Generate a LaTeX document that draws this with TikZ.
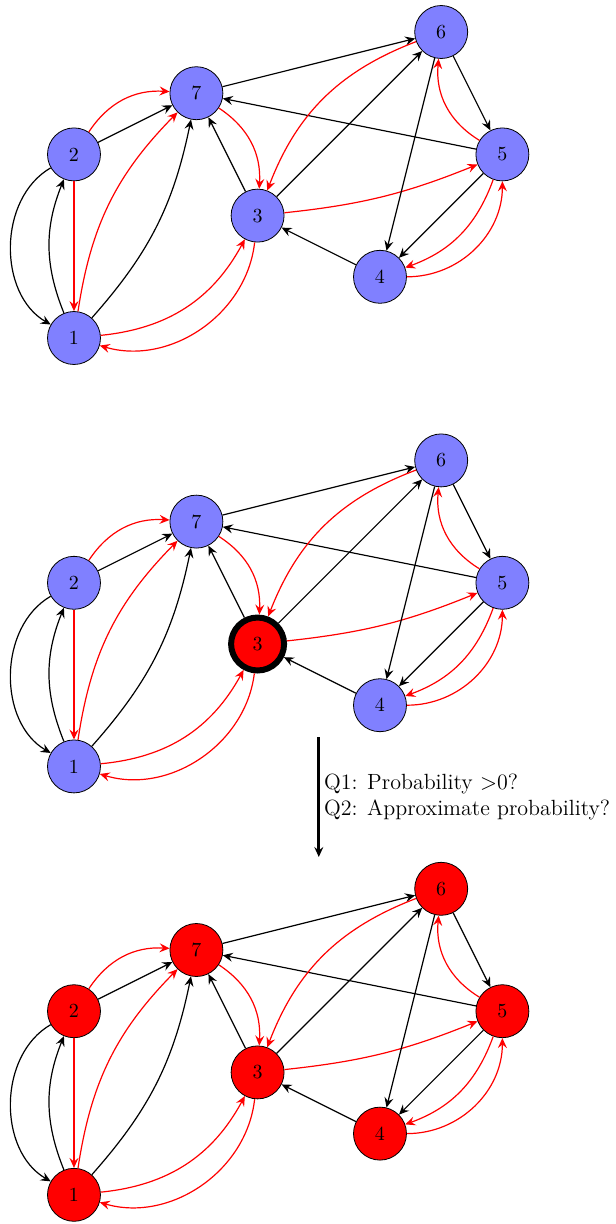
\documentclass[tikz,border=0pt]{standalone}
\usetikzlibrary{arrows.meta}

\begin{document}
\begin{tikzpicture}[
    x = 1.076cm, y = 1.076cm,
    > = {Stealth[length=5pt, width=4.5pt, inset=1.8pt]},
    vtx/.style = {
      circle, draw, minimum size = 26.5pt, inner sep = 0pt
    },
    blk/.style = {->, semithick},
    rd/.style  = {->, semithick, red},
    bigarr/.style = {->, line width = 1.4pt}
  ]
  \useasboundingbox (-1.209,5.523) rectangle (8.856,-14.477);

  % ---- drei Kopien des Graphen ----
  \foreach \g/\dy/\col/\colthree/\lw in {a/0/blue!50/blue!50/0.4pt,
                                          b/-7/blue!50/red/3pt,
                                          c/-14/red/red/0.4pt}{
    \begin{scope}[shift={(0,\dy)}]
      \node[vtx, fill=\col] (\g1) at (0,0) {1};
      \node[vtx, fill=\col] (\g2) at (0,3) {2};
      \node[vtx, fill=\col] (\g7) at (2,4) {7};
      \node[vtx, fill=\colthree, line width=\lw] (\g3) at (3,2) {3};
      \node[vtx, fill=\col] (\g6) at (6,5) {6};
      \node[vtx, fill=\col] (\g5) at (7,3) {5};
      \node[vtx, fill=\col] (\g4) at (5,1) {4};

      % linke Seite
      \draw[blk] (\g2) to[bend right=60] (\g1);
      \draw[blk] (\g1) to[bend left=22] (\g2);
      \draw[rd]  (\g2) -- (\g1);
      \draw[blk] (\g2) -- (\g7);
      \draw[rd]  (\g2) to[bend left=30] (\g7);
      \draw[rd]  (\g1) to[bend left=18] (\g7);
      \draw[blk] (\g1) to[bend right=15] (\g7);
      \draw[rd]  (\g1) to[bend right=28] (\g3);
      \draw[rd]  (\g3) to[bend left=50] (\g1);

      % Mitte
      \draw[blk] (\g7) -- (\g6);
      \draw[blk] (\g5) -- (\g7);
      \draw[rd]  (\g7) to[bend left=30] (\g3);
      \draw[blk] (\g3) -- (\g7);
      \draw[blk] (\g3) -- (\g6);
      \draw[rd]  (\g6) to[bend right=24] (\g3);
      \draw[rd]  (\g3) to[bend right=8] (\g5);
      \draw[blk] (\g4) -- (\g3);

      % rechte Seite
      \draw[blk] (\g6) -- (\g5);
      \draw[rd]  (\g5) to[bend left=32] (\g6);
      \draw[blk] (\g6) -- (\g4);
      \draw[blk] (\g5) -- (\g4);
      \draw[rd]  (\g5) to[bend left=25] (\g4);
      \draw[rd]  (\g4) to[bend right=45] (\g5);
    \end{scope}
  }

  % ---- Pfeil mit Fragen ----
  \coordinate (qtop) at (4,-6.52);
  \coordinate (qbot) at (4,-8.48);
  \draw[bigarr] (qtop) -- (qbot)
    node[midway, right, align=left, inner sep=2pt,
         font=\fontsize{11}{12.8}\selectfont] (qtext)
      {Q1: Probability $>$0?\\Q2: Approximate probability?};

\end{tikzpicture}
\end{document}
